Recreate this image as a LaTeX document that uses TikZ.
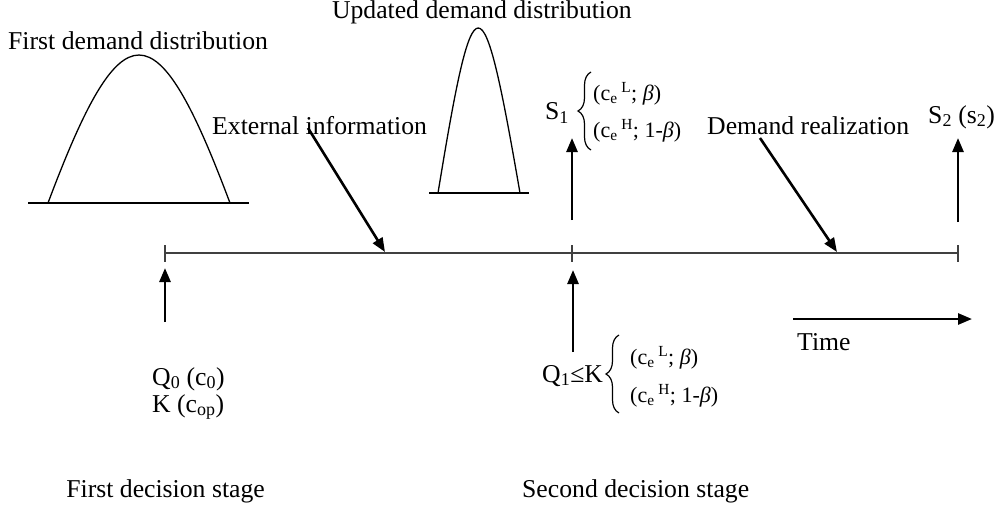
\documentclass[tikz,border=0pt]{standalone}
\usepackage{fontspec}
\setmainfont{Liberation Serif}
\usetikzlibrary{arrows.meta,decorations.pathreplacing}
\begin{document}
\begin{tikzpicture}[x=1pt,y=-1pt,
  lbl/.style={inner sep=0pt,font=\fontsize{25.7}{30}\selectfont},
  small/.style={inner sep=0pt,font=\fontsize{22}{26}\selectfont},
  bigarrow/.style={line width=2.6pt,-{Triangle[length=14pt,width=11pt]}},
  thinline/.style={line width=1.3pt},
  axisline/.style={line width=1.4pt,black!75},
  bracedeco/.style={line width=1.2pt,decorate,decoration={brace,amplitude=13pt}}
]
\useasboundingbox (0,0) rectangle (994,511);

% distributions
\draw[thinline] (28,203) -- (249,203);
\draw[thinline] (48,203) .. controls (122,5.7) and (156,5.7) .. (230,203);
\draw[thinline] (429,193) -- (529,193);
\draw[thinline] (438,193) .. controls (474,-27) and (482,-27) .. (520,193);

% labels
\node[lbl,anchor=base west] (fdd) at (8,50) {First demand distribution};
\node[lbl,anchor=base east] (udd) at (632,19) {Updated demand distribution};
\node[lbl,anchor=base west] (ext) at (212,134) {External information};
\node[lbl,anchor=base west] (dr) at (707,135) {Demand realization};
\node[lbl,anchor=base west] (s1) at (545,120) {S\textsubscript{1}};
\node[lbl,anchor=base west] (s2) at (928,123) {S\textsubscript{2} (s\textsubscript{2})};
\node[small,anchor=base west] (s1a) at (593,100) {(c\textsubscript{e}\,\textsuperscript{L}; \textit{β})};
\node[small,anchor=base west] (s1b) at (593,137) {(c\textsubscript{e}\,\textsuperscript{H}; 1-\textit{β})};
\node[lbl,anchor=base west] (q0) at (152,385) {Q\textsubscript{0} (c\textsubscript{0})};
\node[lbl,anchor=base west] (k) at (152,412) {K (c\textsubscript{op})};
\node[lbl,anchor=base west] (q1) at (542,382) {Q\textsubscript{1}≤K};
\node[small,anchor=base west] (q1a) at (630,364) {(c\textsubscript{e}\,\textsuperscript{L}; \textit{β})};
\node[small,anchor=base west] (q1b) at (630,402) {(c\textsubscript{e}\,\textsuperscript{H}; 1-\textit{β})};
\node[lbl,anchor=base west] (time) at (797,350) {Time};
\node[lbl,anchor=base east] (fds) at (265,497) {First decision stage};
\node[lbl,anchor=base west] (sds) at (522,497) {Second decision stage};

% braces
\coordinate (b1a) at (591,150);
\coordinate (b1b) at (591,72);
\draw[bracedeco] (b1a) -- (b1b);
\coordinate (b2a) at (619,413);
\coordinate (b2b) at (619,335);
\draw[bracedeco] (b2a) -- (b2b);

% timeline
\coordinate (t0) at (165,253);
\coordinate (t1) at (572,253);
\coordinate (t2) at (958,253);
\draw[axisline] (t0) -- (t2);
\foreach \x in {165,572,958} \draw[axisline] (\x,245) -- (\x,262);

% arrows
\coordinate (extA) at (308,128);
\coordinate (extB) at (385,252);
\draw[bigarrow] (extA) -- (extB);
\coordinate (drA) at (760,138);
\coordinate (drB) at (837,252);
\draw[bigarrow] (drA) -- (drB);
\coordinate (s1A) at (572,220);
\coordinate (s1B) at (572,138);
\draw[bigarrow] (s1A) -- (s1B);
\coordinate (s2A) at (958,222);
\coordinate (s2B) at (958,138);
\draw[bigarrow] (s2A) -- (s2B);
\coordinate (q0A) at (165,322);
\coordinate (q0B) at (165,268);
\draw[bigarrow] (q0A) -- (q0B);
\coordinate (q1A) at (573,352);
\coordinate (q1B) at (573,270);
\draw[bigarrow] (q1A) -- (q1B);
\coordinate (tmA) at (793,319);
\coordinate (tmB) at (972,319);
\draw[bigarrow] (tmA) -- (tmB);
\end{tikzpicture}
\end{document}
